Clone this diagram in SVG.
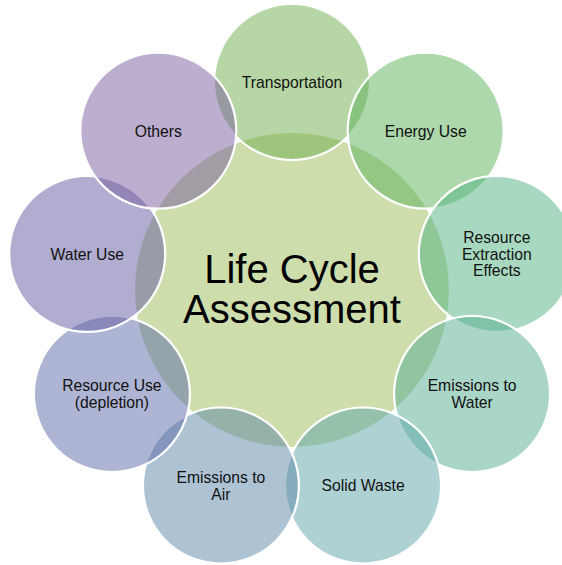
<svg xmlns="http://www.w3.org/2000/svg" width="562" height="565" viewBox="0 0 562 565">
  <style>
    .disc { stroke: #ffffff; stroke-width: 2.2; fill-opacity: 0.5; }
    .hubdisc { stroke: none; fill-opacity: 0.5; }
    .lbl { font-family: "Liberation Sans", Arial, sans-serif; font-size: 15.7px; fill: #111111; text-anchor: middle; }
    .hub { font-family: "Liberation Sans", Arial, sans-serif; font-size: 40px; fill: #000000; text-anchor: middle; }
  </style>
  <rect width="562" height="565" fill="#ffffff"/>

  <!-- hub -->
  <g id="hub">
    <circle class="hubdisc" cx="292" cy="290" r="157" fill="#9BBB59"/>
    <text class="hub" x="292" y="283">Life Cycle</text>
    <text class="hub" x="292" y="323">Assessment</text>
  </g>

  <!-- spokes: 9 satellites, 40 degrees apart, 208 px from the hub -->
  <g id="transportation">
    <circle class="disc" cx="292" cy="82" r="78" fill="#6DAF4B"/>
    <text class="lbl" x="292" y="88">Transportation</text>
  </g>
  <g id="energy-use">
    <circle class="disc" cx="425.7" cy="130.7" r="78" fill="#59B159"/>
    <text class="lbl" x="425.7" y="136.5">Energy Use</text>
  </g>
  <g id="resource-extraction">
    <circle class="disc" cx="496.8" cy="253.9" r="78" fill="#52B381"/>
    <text class="lbl" x="496.8" y="243">Resource</text>
    <text class="lbl" x="496.8" y="260">Extraction</text>
    <text class="lbl" x="496.8" y="276">Effects</text>
  </g>
  <g id="emissions-water">
    <circle class="disc" cx="472.1" cy="394" r="78" fill="#55AD91"/>
    <text class="lbl" x="472.1" y="391">Emissions to</text>
    <text class="lbl" x="472.1" y="408">Water</text>
  </g>
  <g id="solid-waste">
    <circle class="disc" cx="363.1" cy="485.5" r="78" fill="#5DA5A9"/>
    <text class="lbl" x="363.1" y="491">Solid Waste</text>
  </g>
  <g id="emissions-air">
    <circle class="disc" cx="220.9" cy="485.5" r="78" fill="#5B87A7"/>
    <text class="lbl" x="220.9" y="482.5">Emissions to</text>
    <text class="lbl" x="220.9" y="499.5">Air</text>
  </g>
  <g id="resource-use">
    <circle class="disc" cx="111.9" cy="394" r="78" fill="#5D69A9"/>
    <text class="lbl" x="111.9" y="391">Resource Use</text>
    <text class="lbl" x="111.9" y="408">(depletion)</text>
  </g>
  <g id="water-use">
    <circle class="disc" cx="87.2" cy="253.9" r="78" fill="#635BA1"/>
    <text class="lbl" x="87.2" y="259.5">Water Use</text>
  </g>
  <g id="others">
    <circle class="disc" cx="158.3" cy="130.7" r="78" fill="#775D9D"/>
    <text class="lbl" x="158.3" y="136.5">Others</text>
  </g>

  <!-- no connectors: the satellites touch the hub directly -->
  <g id="connectors"/>
</svg>
